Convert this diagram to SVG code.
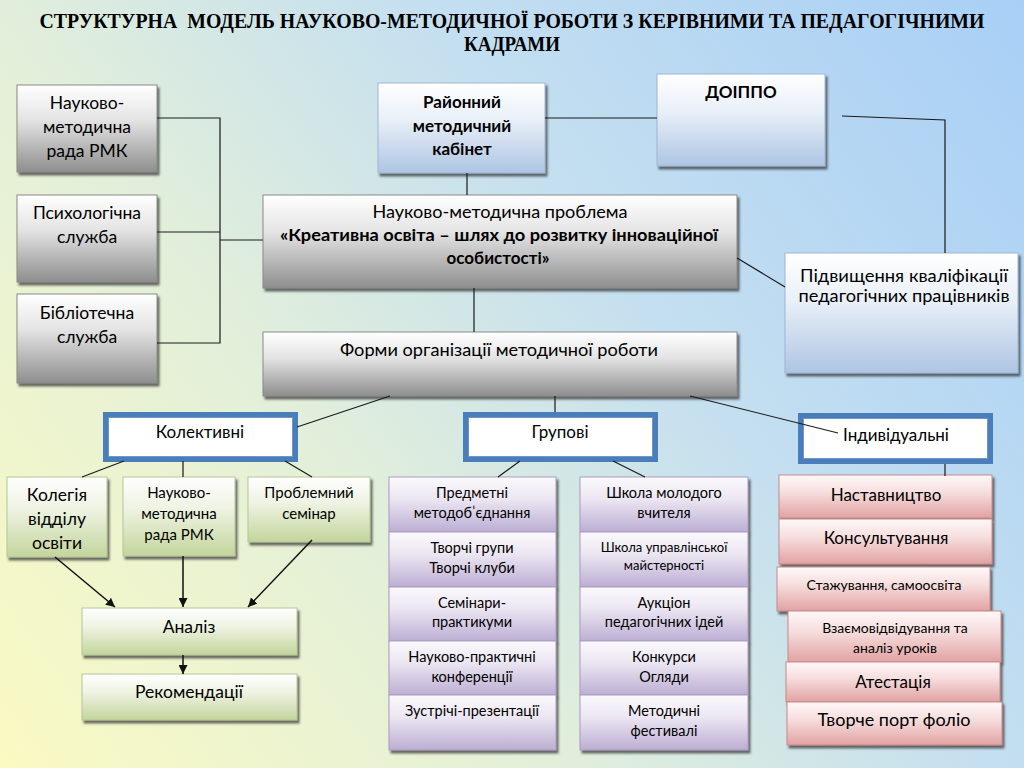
<svg xmlns="http://www.w3.org/2000/svg" width="1024" height="768" viewBox="0 0 1024 768">
<defs>
<linearGradient id="bg" gradientUnits="userSpaceOnUse" x1="0" y1="768" x2="1024" y2="0">
<stop offset="0" stop-color="#fafac2"/><stop offset="0.35" stop-color="#e2efda"/><stop offset="0.62" stop-color="#c4dff0"/><stop offset="1" stop-color="#a8cff6"/>
</linearGradient>
<linearGradient id="gGray" x1="0" y1="0" x2="0" y2="1"><stop offset="0" stop-color="#ffffff"/><stop offset="0.4" stop-color="#e4e4e4"/><stop offset="1" stop-color="#8e8e8e"/></linearGradient>
<linearGradient id="gBlue" x1="0" y1="0" x2="0" y2="1"><stop offset="0" stop-color="#ffffff"/><stop offset="0.4" stop-color="#e9f0f8"/><stop offset="1" stop-color="#aec5e3"/></linearGradient>
<linearGradient id="gGreen" x1="0" y1="0" x2="0" y2="1"><stop offset="0" stop-color="#ffffff"/><stop offset="0.4" stop-color="#eef3e2"/><stop offset="1" stop-color="#c3d59c"/></linearGradient>
<linearGradient id="gPurple" x1="0" y1="0" x2="0" y2="1"><stop offset="0" stop-color="#fbf9fd"/><stop offset="0.4" stop-color="#ece6f2"/><stop offset="1" stop-color="#bcaed3"/></linearGradient>
<linearGradient id="gPink" x1="0" y1="0" x2="0" y2="1"><stop offset="0" stop-color="#fff8f8"/><stop offset="0.4" stop-color="#f6dede"/><stop offset="1" stop-color="#e2a2a2"/></linearGradient>
<filter id="sh" x="-10%" y="-10%" width="125%" height="130%"><feDropShadow dx="2" dy="3" stdDeviation="0.8" flood-color="#3a3a3a" flood-opacity="0.75"/></filter>
<marker id="arr" viewBox="0 0 10 10" refX="10" refY="5" markerWidth="9" markerHeight="9" markerUnits="userSpaceOnUse" orient="auto"><path d="M0,0 L10,5 L0,10 z" fill="#111"/></marker>
</defs>
<style>
.t{font-family:Lato,"Liberation Sans",sans-serif;fill:#000;text-anchor:middle}
.b{font-weight:bold}
.title{font-family:"Liberation Serif",serif;font-weight:bold;font-size:20px;fill:#000;text-anchor:middle}
.gray{fill:url(#gGray);stroke:#8a8a8a;stroke-width:1;filter:url(#sh)}
.blue{fill:url(#gBlue);stroke:#9fb6d6;stroke-width:1;filter:url(#sh)}
.green{fill:url(#gGreen);stroke:#b5c69a;stroke-width:1;filter:url(#sh)}
.purple{fill:url(#gPurple);stroke:#a99cbd;stroke-width:1;filter:url(#sh)}
.pink{fill:url(#gPink);stroke:#c98a8a;stroke-width:1;filter:url(#sh)}
.frame{fill:#4a7ebb}
.inner{fill:#ffffff;stroke:#6f97c9;stroke-width:1}
.c{fill:none;stroke:#1a1a1a;stroke-width:1.2}
.a{fill:none;stroke:#111;stroke-width:1.5;marker-end:url(#arr)}
</style>
<rect x="0" y="0" width="1024" height="768" fill="url(#bg)"/>
<text class="title" x="512" y="28" textLength="945" lengthAdjust="spacingAndGlyphs">СТРУКТУРНА&#160; МОДЕЛЬ НАУКОВО-МЕТОДИЧНОЇ РОБОТИ З КЕРІВНИМИ ТА ПЕДАГОГІЧНИМИ</text>
<text class="title" x="512" y="51" textLength="96" lengthAdjust="spacingAndGlyphs">КАДРАМИ</text>

<g id="n-nmr">
<rect class="gray" x="17" y="85" width="140" height="87"/>
<text class="t" font-size="17.5" x="87" y="109">Науково-</text>
<text class="t" font-size="17.5" x="87" y="133">методична</text>
<text class="t" font-size="17.5" x="87" y="157">рада РМК</text>
</g>
<g id="n-psy">
<rect class="gray" x="17" y="195" width="140" height="87"/>
<text class="t" font-size="17.5" x="87" y="219">Психологічна</text>
<text class="t" font-size="17.5" x="87" y="243">служба</text>
</g>
<g id="n-lib">
<rect class="gray" x="17" y="294" width="140" height="89"/>
<text class="t" font-size="17.5" x="87" y="319">Бібліотечна</text>
<text class="t" font-size="17.5" x="87" y="343">служба</text>
</g>
<g id="n-rmk">
<rect class="blue" x="378" y="83" width="167" height="90"/>
<text class="t b" font-size="17" x="462" y="108">Районний</text>
<text class="t b" font-size="17" x="462" y="132">методичний</text>
<text class="t b" font-size="17" x="462" y="155">кабінет</text>
</g>
<g id="n-doippo">
<rect class="blue" x="657" y="74" width="168" height="92"/>
<text class="t b" font-size="17" x="741" y="98">ДОІППО</text>
</g>
<g id="n-problem">
<rect class="gray" x="263" y="195" width="474" height="93"/>
<text class="t" font-size="17" x="500" y="218" textLength="255" lengthAdjust="spacingAndGlyphs">Науково-методична проблема</text>
<text class="t b" font-size="17" x="499" y="241" textLength="438" lengthAdjust="spacingAndGlyphs">«Креативна освіта – шлях до розвитку інноваційної</text>
<text class="t b" font-size="17" x="498" y="264">особистості»</text>
</g>
<g id="n-pidv">
<rect class="blue" x="785" y="253" width="233" height="120"/>
<text class="t" font-size="17" x="904" y="282" textLength="208" lengthAdjust="spacingAndGlyphs">Підвищення кваліфікації</text>
<text class="t" font-size="17" x="904" y="302" textLength="211" lengthAdjust="spacingAndGlyphs">педагогічних працівників</text>
</g>
<g id="n-forms">
<rect class="gray" x="263" y="332" width="474" height="64"/>
<text class="t" font-size="17" x="499" y="356" textLength="318" lengthAdjust="spacingAndGlyphs">Форми організації методичної роботи</text>
</g>

<g id="n-kolektyvni">
<rect class="frame" x="103" y="412" width="195" height="50"/>
<rect class="inner" x="108.5" y="417.5" width="184" height="39"/>
<text class="t" font-size="17" x="200" y="438">Колективні</text>
</g>
<g id="n-grupovi">
<rect class="frame" x="463" y="412" width="195" height="50"/>
<rect class="inner" x="468.5" y="417.5" width="184" height="39"/>
<text class="t" font-size="17" x="560" y="438">Групові</text>
</g>
<g id="n-indyv">
<rect class="frame" x="798" y="413" width="195" height="51"/>
<rect class="inner" x="803.5" y="418.5" width="184" height="40"/>
<text class="t" font-size="17" x="896" y="441">Індивідуальні</text>
</g>

<g id="n-kolegia">
<rect class="green" x="7" y="477" width="100" height="80"/>
<text class="t" font-size="17.5" x="57" y="501">Колегія</text>
<text class="t" font-size="17.5" x="57" y="525">відділу</text>
<text class="t" font-size="17.5" x="57" y="549">освіти</text>
</g>
<g id="n-nmr2">
<rect class="green" x="123" y="477" width="112" height="79"/>
<text class="t" font-size="15" x="179" y="498">Науково-</text>
<text class="t" font-size="15" x="179" y="519">методична</text>
<text class="t" font-size="15" x="179" y="540">рада РМК</text>
</g>
<g id="n-seminar">
<rect class="green" x="248" y="477" width="122" height="65"/>
<text class="t" font-size="15" x="309" y="498">Проблемний</text>
<text class="t" font-size="15" x="309" y="519">семінар</text>
</g>
<g id="n-analiz">
<rect class="green" x="82" y="608" width="215" height="47"/>
<text class="t" font-size="17.5" x="189" y="633">Аналіз</text>
</g>
<g id="n-rekom">
<rect class="green" x="82" y="674" width="215" height="46"/>
<text class="t" font-size="17.5" x="189" y="698">Рекомендації</text>
</g>

<g id="n-g-left">
<rect class="purple" x="389" y="477" width="167" height="55"/>
<rect class="purple" x="389" y="532" width="167" height="55"/>
<rect class="purple" x="389" y="587" width="167" height="54"/>
<rect class="purple" x="389" y="641" width="167" height="54"/>
<rect class="purple" x="389" y="695" width="167" height="55"/>
<text class="t" font-size="14.5" x="472" y="498">Предметні</text>
<text class="t" font-size="14.5" x="472" y="518">методоб<tspan>ˈ</tspan>єднання</text>
<text class="t" font-size="14.5" x="472" y="553">Творчі групи</text>
<text class="t" font-size="14.5" x="472" y="573">Творчі клуби</text>
<text class="t" font-size="14.5" x="472" y="608">Семінари-</text>
<text class="t" font-size="14.5" x="472" y="627">практикуми</text>
<text class="t" font-size="14.5" x="472" y="662">Науково-практичні</text>
<text class="t" font-size="14.5" x="472" y="682">конференції</text>
<text class="t" font-size="14.5" x="472" y="716">Зустрічі-презентації</text>
</g>
<g id="n-g-right">
<rect class="purple" x="580" y="477" width="168" height="55"/>
<rect class="purple" x="580" y="532" width="168" height="55"/>
<rect class="purple" x="580" y="587" width="168" height="54"/>
<rect class="purple" x="580" y="641" width="168" height="54"/>
<rect class="purple" x="580" y="695" width="168" height="55"/>
<text class="t" font-size="14.5" x="664" y="498">Школа молодого</text>
<text class="t" font-size="14.5" x="664" y="518">вчителя</text>
<text class="t" font-size="13" x="664" y="552">Школа управлінської</text>
<text class="t" font-size="13" x="664" y="570">майстерності</text>
<text class="t" font-size="14.5" x="664" y="608">Аукціон</text>
<text class="t" font-size="14.5" x="664" y="627">педагогічних ідей</text>
<text class="t" font-size="14.5" x="664" y="662">Конкурси</text>
<text class="t" font-size="14.5" x="664" y="682">Огляди</text>
<text class="t" font-size="14.5" x="664" y="716">Методичні</text>
<text class="t" font-size="14.5" x="664" y="736">фестивалі</text>
</g>

<g id="n-nastavn">
<rect class="pink" x="779" y="475" width="213" height="43"/>
<text class="t" font-size="17" x="886" y="501">Наставництво</text>
</g>
<g id="n-konsult">
<rect class="pink" x="779" y="519" width="213" height="45"/>
<text class="t" font-size="17" x="886" y="544">Консультування</text>
</g>
<g id="n-stazh">
<rect class="pink" x="777" y="567" width="213" height="44"/>
<text class="t" font-size="14" x="884" y="590">Стажування, самоосвіта</text>
</g>
<g id="n-vzaiem">
<rect class="pink" x="788" y="611" width="213" height="51"/>
<text class="t" font-size="14" x="895" y="633">Взаємовідвідування та</text>
<text class="t" font-size="14" x="895" y="653">аналіз уроків</text>
</g>
<g id="n-atest">
<rect class="pink" x="786" y="662" width="214" height="40"/>
<text class="t" font-size="17" x="893" y="688">Атестація</text>
</g>
<g id="n-portf">
<rect class="pink" x="787" y="702" width="215" height="43"/>
<text class="t" font-size="18" x="894" y="726">Творче порт фоліо</text>
</g>

<g id="connectors">
<path class="c" d="M157,118 H220 V343 H157 M157,232 H220 M220,240 H263"/>
<path class="c" d="M467,173 V195"/>
<path class="c" d="M545,118 H657"/>
<path class="c" d="M842,116 L945,120 V253"/>
<path class="c" d="M737,258 L785,287"/>
<path class="c" d="M474,288 V332"/>
<path class="c" d="M390,396 L297,427"/>
<path class="c" d="M555,396 V412"/>
<path class="c" d="M690,396 L838,433"/>
<path class="c" d="M945,464 V476"/>
<path class="c" d="M124,461 L82,477 M183,461 V477 M285,461 L312,477"/>
<path class="c" d="M520,461 L498,477 M613,461 L645,477"/>
<path class="a" d="M55,557 L115,607"/>
<path class="a" d="M183,556 V607"/>
<path class="a" d="M312,540 L248,607"/>
<path class="a" d="M183,655 V674"/>
</g>
</svg>
